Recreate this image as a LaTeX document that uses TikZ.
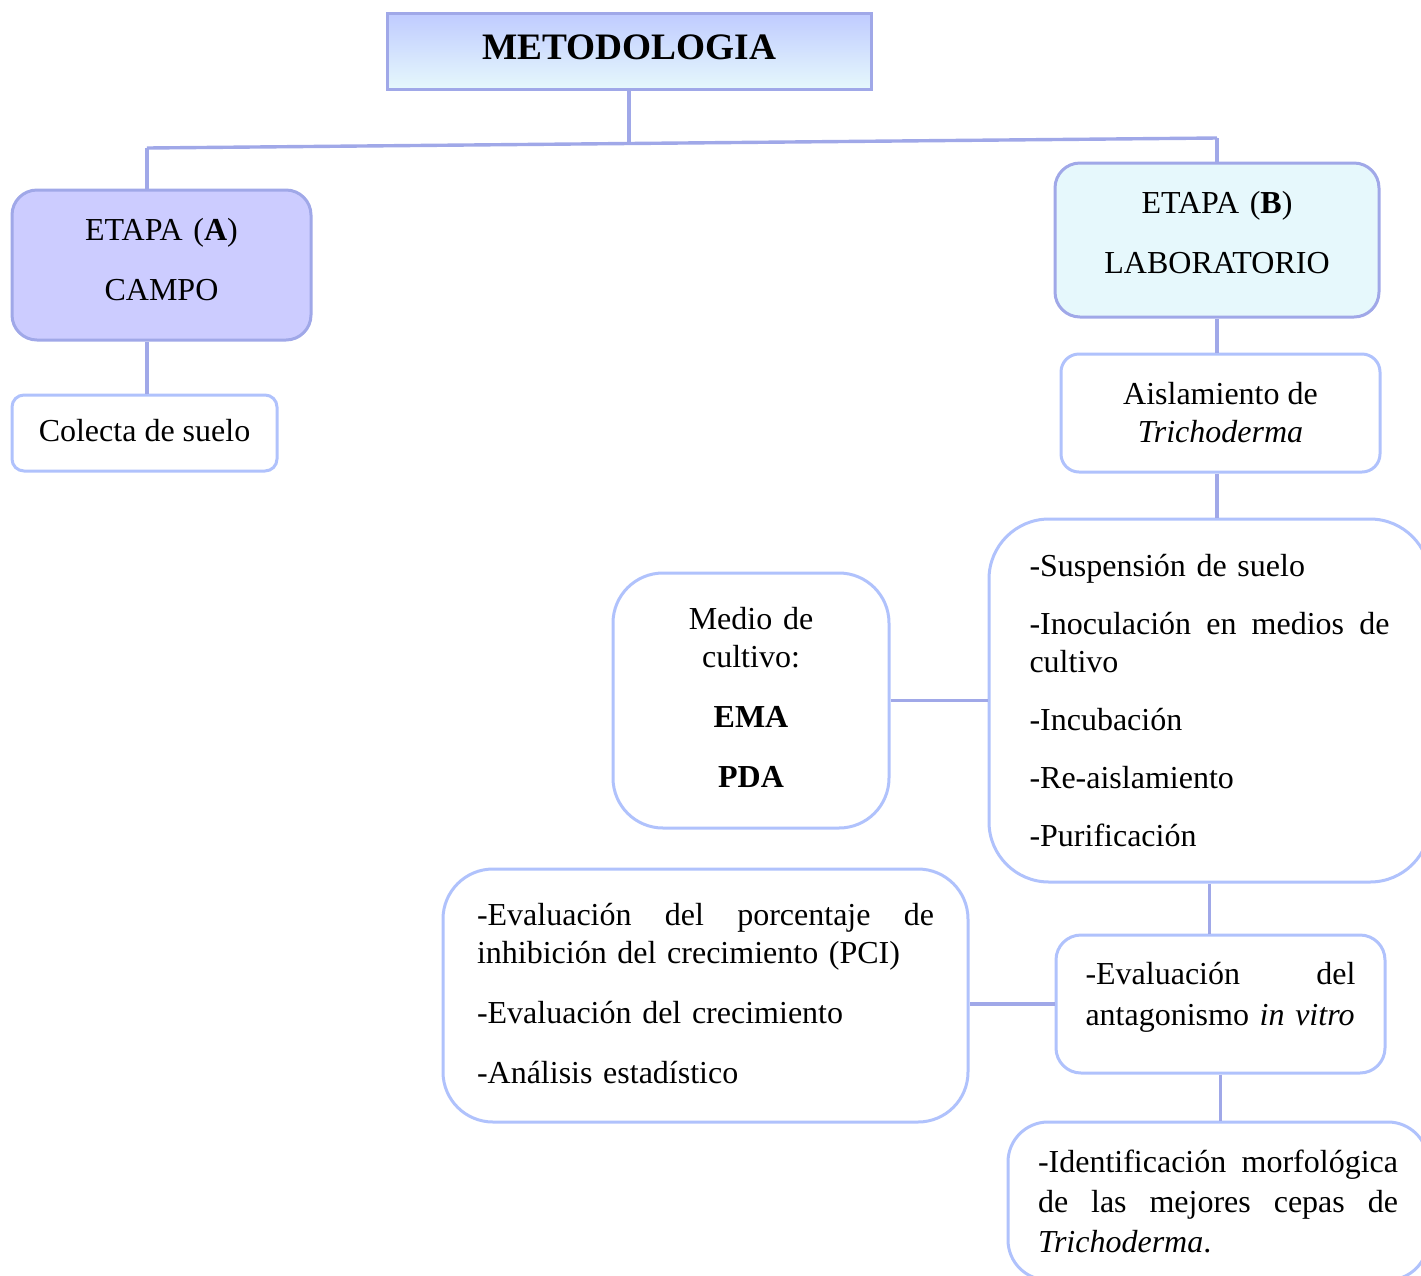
\documentclass[tikz,border=0pt]{standalone}
\usepackage{fontspec}
\setmainfont{Liberation Serif}
\setlength{\parindent}{0pt}
\definecolor{borde}{HTML}{A0A8E8}
\definecolor{bordeclaro}{HTML}{B0C2FC}
\definecolor{lila}{HTML}{CCCCFF}
\definecolor{celeste}{HTML}{E6F8FC}
\definecolor{azulclaro}{HTML}{BFCBFF}
\newcommand{\bajo}[1]{\par\hrule height #1 width 0pt}

\begin{document}
\begin{tikzpicture}[x=0.5pt,y=-0.5pt,
  every node/.style={font=\fontsize{16}{19}\selectfont, inner sep=0pt},
  etapa/.style={draw=borde, line width=1.5pt, rounded corners=12.5pt, align=center},
  caja/.style={draw=bordeclaro, line width=1.5pt, fill=white},
  linea/.style={draw=borde, line width=1.7pt}]

\useasboundingbox (0,0) rectangle (1421,1276);
\clip (0,0) rectangle (1421,1276);

\node[draw=borde, line width=1.5pt, top color=azulclaro, middle color=azulclaro!80!celeste,
      bottom color=celeste, minimum width=242pt, minimum height=38pt, text depth=4pt,
      font=\fontsize{18.67}{22}\selectfont\bfseries] (titulo) at (629,51) {METODOLOGIA};

\node[etapa, fill=lila, text width=140pt, minimum width=149.5pt, minimum height=75pt] (etapaA)
     at (161.5,265) {ETAPA (\textbf{A})\\[11pt]CAMPO\bajo{5pt}};
\node[caja, rounded corners=6pt, minimum width=132.5pt, minimum height=38pt, text depth=3pt] (colecta)
     at (144.5,433) {Colecta de suelo};

\node[etapa, fill=celeste, text width=150pt, minimum width=162pt, minimum height=77pt] (etapaB)
     at (1217,240) {ETAPA (\textbf{B})\\[11pt]LABORATORIO\bajo{7pt}};
\node[caja, rounded corners=9pt, align=center, minimum width=159.5pt, minimum height=59pt] (aislamiento)
     at (1220.5,413) {Aislamiento de\\\textit{Trichoderma}};

\node[caja, rounded corners=30pt, text width=180pt, align=left, minimum width=220.5pt,
      minimum height=181.5pt] (pasos) at (1209.5,700.5)
     {-Suspensión de suelo\\[10pt]
      -Inoculación\hfill en\hfill medios\hfill de\\
      cultivo\\[10pt]
      -Incubación\\[10pt]
      -Re-aislamiento\\[10pt]
      -Purificación};

\node[caja, rounded corners=25pt, text width=130pt, align=center, minimum width=138pt,
      minimum height=127.5pt] (medio) at (751,700.5)
     {Medio de\\cultivo:\\[11pt]\textbf{EMA}\\[11pt]\textbf{PDA}\bajo{3pt}};

\node[caja, rounded corners=12.5pt, text width=135pt, align=left, minimum width=164.5pt,
      minimum height=69pt] (invitro) at (1220.5,1004)
     {-Evaluación\hfill del\\[1.5pt]antagonismo \textit{in vitro}\bajo{7pt}};

\node[caja, rounded corners=25pt, text width=228.5pt, align=left, minimum width=262.5pt,
      minimum height=126.5pt] (pci) at (705.5,995.5)
     {-Evaluación\hfill del\hfill porcentaje\hfill de\\
      inhibición del crecimiento (PCI)\\[11pt]
      -Evaluación del crecimiento\\[11pt]
      -Análisis estadístico\bajo{2pt}};

\node[caja, rounded corners=20pt, text width=180pt, align=left, minimum width=210pt,
      minimum height=79pt, font=\fontsize{16}{20}\selectfont] (identificacion) at (1218,1201)
     {-Identificación\hfill morfológica\\
      de\hfill las\hfill mejores\hfill cepas\hfill de\\
      \textit{Trichoderma}.};

% ramas
\coordinate (ramaA) at (147,148);
\coordinate (ramaB) at (1217,138);
\coordinate (centro) at (627,143.5);
\draw[linea] (ramaA) -- (ramaB);
\draw[linea] (titulo.south) -- (titulo.south |- centro);
\draw[linea] (ramaA) -- (ramaA |- etapaA.north);
\draw[linea] (ramaB) -- (etapaB.north);
\draw[linea] (etapaA.south -| ramaA) -- (colecta.north -| ramaA);
\draw[linea] (etapaB.south) -- (aislamiento.north -| etapaB.south);
\draw[linea] (aislamiento.south -| etapaB.south) -- (pasos.north -| etapaB.south);
\draw[linea] (medio.east) -- (medio.east -| pasos.west);
\draw[linea] (pasos.south) -- (pasos.south |- invitro.north);
\draw[linea] (invitro.west) -- (invitro.west -| pci.east);
\draw[linea] (invitro.south) -- (invitro.south |- identificacion.north);

\end{tikzpicture}
\end{document}
